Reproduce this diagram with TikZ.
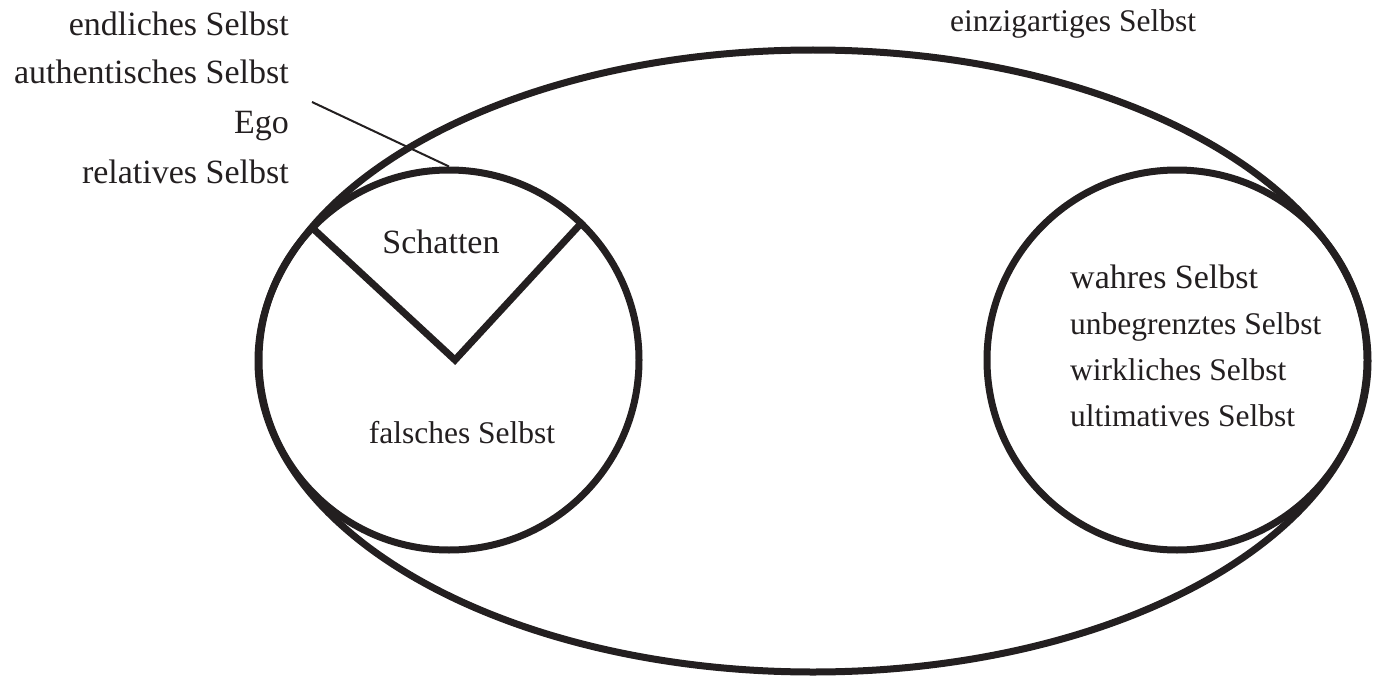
\documentclass[tikz,border=0pt]{standalone}
\usepackage{fontspec}
\setmainfont{Liberation Serif}
\usetikzlibrary{shapes.geometric}
\definecolor{ink}{RGB}{35,31,32}
\begin{document}
\begin{tikzpicture}[x=1pt,y=-1pt,
  thickline/.style={line width=7pt, draw=ink},
  lbl/.style={font=\fontsize{34}{40}\selectfont, text=ink, inner sep=0pt},
  lbls/.style={font=\fontsize{31.5}{38}\selectfont, text=ink, inner sep=0pt}]
\useasboundingbox (0,0) rectangle (1377,677);
\node[ellipse, thickline, minimum width=1110pt, minimum height=622pt, inner sep=0pt] (big) at (813,361) {};
\node[circle, thickline, minimum size=380pt, inner sep=0pt] (lc) at (449,360) {};
\node[circle, thickline, minimum size=380pt, inner sep=0pt] (rc) at (1177,360) {};
\coordinate (vtx) at (455,360);
\draw[thickline, line join=miter] (lc.136) -- (vtx) -- (lc.46);
\coordinate (egoline) at (312,102);
\draw[line width=2pt, ink] (egoline) -- (lc.north);
% left labels
\node[lbl, anchor=base east] (l1) at (289,36) {endliches Selbst};
\node[lbl, anchor=base east] (l2) at (289,84) {authentisches Selbst};
\node[lbl, anchor=base east] (l3) at (289,133) {Ego};
\node[lbl, anchor=base east] (l4) at (289,183) {relatives Selbst};
% inside left circle
\node[lbl, anchor=base] (sch) at (441,253) {Schatten};
\node[lbls, anchor=base] (fal) at (462,443) {falsches Selbst};
% top
\node[lbls, anchor=base west] (ein) at (950,32) {einzigartiges Selbst};
% inside right circle
\node[lbl, anchor=base west] (r1) at (1070,288) {wahres Selbst};
\node[lbls, anchor=base west] (r2) at (1070,334) {unbegrenztes Selbst};
\node[lbls, anchor=base west] (r3) at (1070,380) {wirkliches Selbst};
\node[lbls, anchor=base west] (r4) at (1070,426) {ultimatives Selbst};
\end{tikzpicture}
\end{document}
